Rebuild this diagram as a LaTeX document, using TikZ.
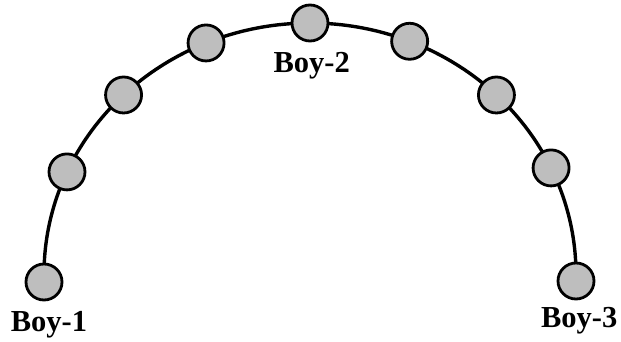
\documentclass[tikz,border=0pt]{standalone}
\usepackage{fontspec}
\setmainfont{Liberation Serif}
\usetikzlibrary{backgrounds}
\definecolor{boyfill}{RGB}{190,190,190}
\tikzset{
  boy/.style={circle, draw=black, line width=1.4pt, fill=boyfill, minimum size=18pt, inner sep=0pt},
  arcline/.style={draw=black, line width=1.7pt},
  boylabel/.style={font=\fontsize{15.25pt}{16pt}\selectfont\bfseries, anchor=base, inner sep=0pt}
}
\newcommand{\ex}[1]{{310+266*cos(#1)}}
\newcommand{\ey}[1]{{274-251*sin(#1)}}
\begin{document}
\begin{tikzpicture}[x=0.5pt,y=-0.5pt]
\useasboundingbox (0,0) rectangle (621,342);
\node[boy] (b1) at (44,282) {};
\node[boy] (b2) at (\ex{156},\ey{156}) {};
\node[boy] (b3) at (\ex{134.5},\ey{134.5}) {};
\node[boy] (b4) at (\ex{113},\ey{113}) {};
\node[boy] (b5) at (\ex{90},\ey{90}) {};
\node[boy] (b6) at (\ex{68},\ey{68}) {};
\node[boy] (b7) at (\ex{45.5},\ey{45.5}) {};
\node[boy] (b8) at (\ex{25},\ey{25}) {};
\node[boy] (b9) at (576,281) {};
\begin{scope}[on background layer]
\draw[arcline] (b1.center) -- plot[domain=180:0,samples=150] ({310+266*cos(\x)},{274-251*sin(\x)}) -- (b9.center);
\end{scope}
\node[boylabel] (l1) at (49,331) {Boy-1};
\node[boylabel] (l2) at (311.7,73) {Boy-2};
\node[boylabel] (l3) at (579.2,327) {Boy-3};
\end{tikzpicture}
\end{document}
